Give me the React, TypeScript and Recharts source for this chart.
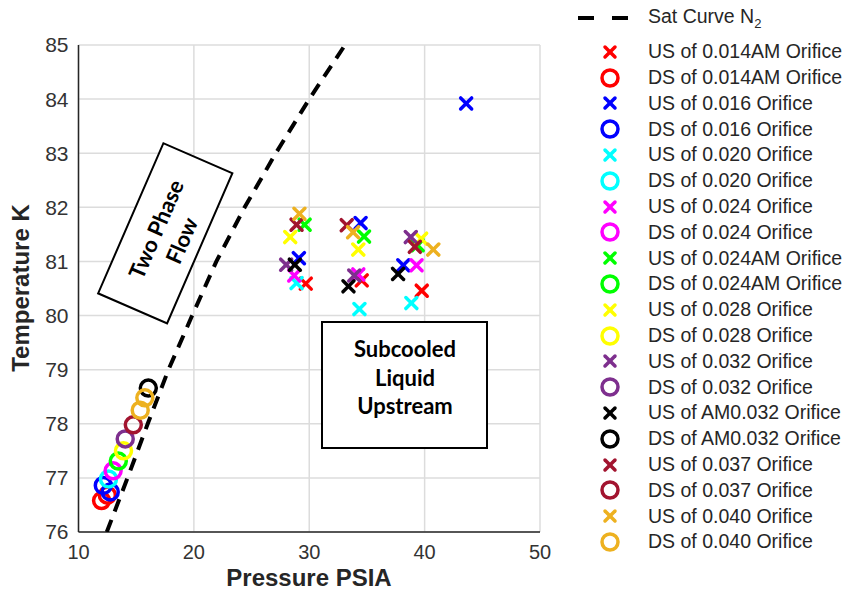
import React from 'react';
import { ScatterChart, Scatter, XAxis, YAxis, CartesianGrid, Legend } from 'recharts';

// saturation curve of N2
const satTemp = [76, 77, 78, 79, 80, 81, 82, 83, 84, 85];
const satPress = [12.45, 14.25, 16.0, 17.8, 19.85, 21.95, 24.4, 27.1, 30.0, 33.1];

const orifices = ['0.014AM', '0.016', '0.020', '0.024', '0.024AM', '0.028', '0.032', 'AM0.032', '0.037', '0.040'];
const colors = ['#ff0000', '#0000ff', '#00ffff', '#ff00ff', '#00ff00', '#ffff00', '#7e2f8e', '#000000', '#a2142f', '#edb120'];

// upstream (US) points, one row per orifice
const usPress = [
  [29.7, 34.55, 39.75],
  [29.1, 34.45, 38.15, 43.6],
  [28.9, 34.35, 38.85],
  [28.7, 34.25, 39.3],
  [29.6, 34.75, 39.4],
  [28.35, 34.25, 39.7],
  [28.0, 33.9, 38.8],
  [28.75, 33.4, 37.7],
  [28.9, 33.25, 39.15],
  [29.15, 33.8, 40.75],
];
const usTemp = [
  [80.59, 80.65, 80.46],
  [81.06, 81.71, 80.93, 83.92],
  [80.6, 80.12, 80.23],
  [80.74, 80.76, 80.93],
  [81.68, 81.46, 81.3],
  [81.45, 81.22, 81.42],
  [80.94, 80.74, 81.45],
  [80.94, 80.54, 80.77],
  [81.68, 81.67, 81.27],
  [81.88, 81.54, 81.22],
];

// downstream (DS) points
const dsPress = [
  [12.0, 12.5],
  [12.15, 12.75],
  [12.6],
  [13.0],
  [13.45],
  [13.9],
  [14.05],
  [16.05],
  [14.75],
  [15.75, 15.35],
];
const dsTemp = [
  [76.58, 76.68],
  [76.86, 76.74],
  [76.98],
  [77.13],
  [77.31],
  [77.5],
  [77.72],
  [78.66],
  [77.98],
  [78.48, 78.25],
];

const xTicks = [10, 20, 30, 40, 50];
const yTicks = [76, 77, 78, 79, 80, 81, 82, 83, 84, 85];

const satData = satTemp.map((t, i) => ({ p: satPress[i], t }));
const series = orifices.map((name, i) => ({
  name,
  color: colors[i],
  us: usPress[i].map((p, j) => ({ p, t: usTemp[i][j] })),
  ds: dsPress[i].map((p, j) => ({ p, t: dsTemp[i][j] })),
}));

const sans = '"Liberation Sans", Arial, sans-serif';
const axisColor = '#262626';

const crossShape = (color: string) => (props: any) => {
  const { cx, cy } = props;
  const s = 5.5;
  return (
    <g stroke={color} strokeWidth={3.5} strokeLinecap="round">
      <line x1={cx - s} y1={cy - s} x2={cx + s} y2={cy + s} />
      <line x1={cx - s} y1={cy + s} x2={cx + s} y2={cy - s} />
    </g>
  );
};

const circleShape = (color: string) => (props: any) => {
  const { cx, cy } = props;
  return <circle cx={cx} cy={cy} r={8} fill="none" stroke={color} strokeWidth={3.5} />;
};

const renderLegend = () => {
  const rows = series.flatMap((s) => [
    { label: `US of ${s.name} Orifice`, color: s.color, kind: 'x' },
    { label: `DS of ${s.name} Orifice`, color: s.color, kind: 'o' },
  ]);
  return (
    <div style={{ position: 'relative', width: 286, height: 560, fontFamily: sans, fontSize: 19.5, color: axisColor }}>
      <div style={{ position: 'absolute', left: 0, top: 18 - 13, height: 26, display: 'flex', alignItems: 'center', whiteSpace: 'nowrap' }}>
        <svg width={80} height={26}>
          <line x1={18} y1={13} x2={68} y2={13} stroke="#000" strokeWidth={4} strokeDasharray="16 18" />
        </svg>
        <span style={{ marginLeft: 8 }}>
          Sat Curve N<sub style={{ fontSize: 13 }}>2</sub>
        </span>
      </div>
      {rows.map((r, i) => (
        <div
          key={r.label}
          style={{ position: 'absolute', left: 0, top: 51.7 + i * 25.8 - 13, height: 26, display: 'flex', alignItems: 'center', whiteSpace: 'nowrap' }}
        >
          <svg width={80} height={26}>
            {r.kind === 'x' ? (
              <g stroke={r.color} strokeWidth={3.5} strokeLinecap="round">
                <line x1={45} y1={8} x2={55} y2={18} />
                <line x1={45} y1={18} x2={55} y2={8} />
              </g>
            ) : (
              <circle cx={50} cy={13} r={8} fill="none" stroke={r.color} strokeWidth={3.5} />
            )}
          </svg>
          <span style={{ marginLeft: 8 }}>{r.label}</span>
        </div>
      ))}
    </div>
  );
};

const Annotations = () => (
  <svg width={846} height={590} style={{ position: 'absolute', left: 0, top: 0, pointerEvents: 'none' }}>
    <g transform="translate(165.25,233.3) rotate(-66.5)">
      <rect x={-81.85} y={-37.6} width={163.7} height={75.2} fill="#fff" stroke="#000" strokeWidth={2} />
      <text textAnchor="middle" fontFamily="Lato, sans-serif" fontWeight={700} fontSize={22} fill="#000">
        <tspan x={0} y={-2}>Two Phase</tspan>
        <tspan x={0} y={26}>Flow</tspan>
      </text>
    </g>
    <rect x={322} y={322} width={165} height={126} fill="#fff" stroke="#000" strokeWidth={2} />
    <text textAnchor="middle" fontFamily="Lato, sans-serif" fontWeight={700} fontSize={22} fill="#000">
      <tspan x={405} y={357}>Subcooled</tspan>
      <tspan x={405} y={386}>Liquid</tspan>
      <tspan x={405} y={414}>Upstream</tspan>
    </text>
  </svg>
);

export default function App() {
  return (
    <div style={{ position: 'absolute', left: 0, top: 0, width: 846, height: 590, background: '#fff' }}>
      <ScatterChart width={846} height={590} margin={{ top: 45, right: 306, bottom: 0, left: 0 }}>
        <CartesianGrid stroke="#dcdcdc" strokeWidth={1.5} horizontalValues={yTicks} verticalValues={xTicks} />
        <XAxis
          type="number"
          dataKey="p"
          domain={[10, 50]}
          ticks={xTicks}
          allowDataOverflow
          height={58}
          tickLine={false}
          tickSize={6}
          tickMargin={7}
          axisLine={{ stroke: axisColor, strokeWidth: 1.5 }}
          tick={{ fill: '#333', fontSize: 20, fontFamily: sans }}
          label={{
            content: () => (
              <text x={309} y={586} textAnchor="middle" fontFamily={sans} fontWeight={700} fontSize={24} fill={axisColor}>
                Pressure PSIA
              </text>
            ),
          }}
        />
        <XAxis xAxisId="top" orientation="top" type="number" domain={[10, 50]} height={0} tick={false} tickLine={false} axisLine={{ stroke: axisColor, strokeWidth: 1.5 }} />
        <YAxis
          type="number"
          dataKey="t"
          domain={[76, 85]}
          ticks={yTicks}
          allowDataOverflow
          width={78.5}
          tickLine={false}
          tickSize={6}
          tickMargin={4}
          axisLine={{ stroke: axisColor, strokeWidth: 1.5 }}
          tick={{ fill: '#333', fontSize: 21, fontFamily: sans }}
          label={{
            content: () => (
              <text x={20} y={288} transform="rotate(-90 20 288)" textAnchor="middle" dominantBaseline="central" fontFamily={sans} fontWeight={700} fontSize={24} fill={axisColor}>
                Temperature K
              </text>
            ),
          }}
        />
        <YAxis yAxisId="right" orientation="right" type="number" domain={[76, 85]} width={0} tick={false} tickLine={false} axisLine={{ stroke: axisColor, strokeWidth: 1.5 }} />
        <Scatter
          name="Sat Curve N2"
          data={satData}
          line={{ stroke: '#000', strokeWidth: 4, strokeDasharray: '13 9' }}
          lineType="joint"
          shape={() => null}
          isAnimationActive={false}
        />
        {series.flatMap((s) => [
          <Scatter key={`us-${s.name}`} name={`US of ${s.name} Orifice`} data={s.us} shape={crossShape(s.color)} isAnimationActive={false} />,
          <Scatter key={`ds-${s.name}`} name={`DS of ${s.name} Orifice`} data={s.ds} shape={circleShape(s.color)} isAnimationActive={false} />,
        ])}
        <Legend
          layout="vertical"
          align="center"
          verticalAlign="middle"
          content={renderLegend}
          wrapperStyle={{ left: 560, top: 0, width: 286, height: 560 }}
        />
      </ScatterChart>
      <Annotations />
    </div>
  );
}
